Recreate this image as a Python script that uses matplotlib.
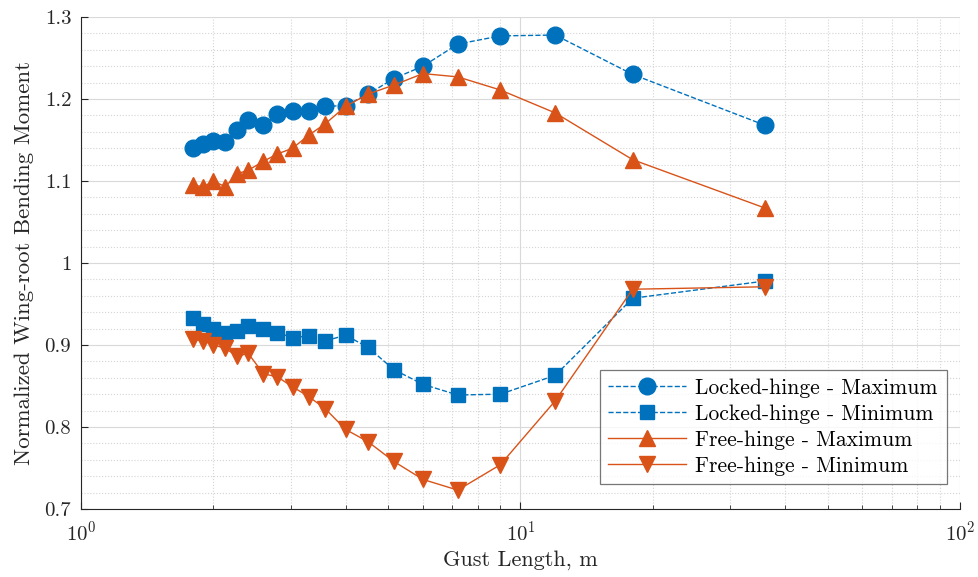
import numpy as np
import matplotlib
matplotlib.use("Agg")
import matplotlib.pyplot as plt
from matplotlib.ticker import FixedLocator, MultipleLocator, LogLocator, NullFormatter

plt.rcParams['font.family'] = 'serif'
plt.rcParams['font.serif'] = ['cmr10', 'DejaVu Serif']
plt.rcParams['mathtext.fontset'] = 'cm'
plt.rcParams['axes.formatter.use_mathtext'] = True

# gust lengths, m
gust_length = [1.8, 1.9, 2.0, 2.13, 2.27, 2.4, 2.6, 2.8, 3.03, 3.3, 3.6, 4.0,
               4.5, 5.15, 6.0, 7.2, 9.0, 12.0, 18.0, 36.0]

locked_max = [1.140, 1.145, 1.149, 1.148, 1.162, 1.175, 1.168, 1.182, 1.185, 1.185,
              1.191, 1.192, 1.206, 1.225, 1.240, 1.267, 1.277, 1.278, 1.230, 1.168]
locked_min = [0.933, 0.926, 0.919, 0.915, 0.917, 0.923, 0.919, 0.915, 0.909, 0.911,
              0.905, 0.912, 0.897, 0.870, 0.852, 0.839, 0.840, 0.863, 0.957, 0.978]
free_max = [1.095, 1.093, 1.100, 1.093, 1.109, 1.113, 1.124, 1.133, 1.140, 1.156,
            1.170, 1.191, 1.206, 1.217, 1.231, 1.227, 1.211, 1.183, 1.126, 1.067]
free_min = [0.907, 0.905, 0.900, 0.896, 0.886, 0.890, 0.865, 0.861, 0.849, 0.837,
            0.822, 0.797, 0.782, 0.758, 0.736, 0.723, 0.754, 0.832, 0.968, 0.971]

blue = '#0072BD'
orange = '#D95319'

fig = plt.figure(figsize=(9.79, 5.77), dpi=100)
ax = fig.add_axes([0.0827, 0.1179, 0.8979, 0.8526])

ax.plot(gust_length, locked_max, '--', color=blue, lw=1.0, marker='o', ms=12,
        mfc=blue, mec=blue, label='Locked-hinge - Maximum', zorder=3)
ax.plot(gust_length, locked_min, '--', color=blue, lw=1.0, marker='s', ms=10,
        mfc=blue, mec=blue, label='Locked-hinge - Minimum', zorder=3)
ax.plot(gust_length, free_max, '-', color=orange, lw=1.0, marker='^', ms=12,
        mfc=orange, mec=orange, label='Free-hinge - Maximum', zorder=4)
ax.plot(gust_length, free_min, '-', color=orange, lw=1.0, marker='v', ms=12,
        mfc=orange, mec=orange, label='Free-hinge - Minimum', zorder=4)

ax.set_xscale('log')
ax.set_xlim(1, 100)
ax.set_ylim(0.7, 1.3)
ax.yaxis.set_major_locator(FixedLocator([0.7, 0.8, 0.9, 1.0, 1.1, 1.2, 1.3]))
ax.set_yticklabels(['0.7', '0.8', '0.9', '1', '1.1', '1.2', '1.3'])
ax.yaxis.set_minor_locator(MultipleLocator(0.02))
ax.xaxis.set_major_locator(LogLocator(base=10))
ax.xaxis.set_minor_locator(LogLocator(base=10, subs=np.arange(2, 10)))
ax.xaxis.set_minor_formatter(NullFormatter())

ax.grid(which='major', color='#d9d9d9', lw=0.8, ls='-')
ax.grid(which='minor', color='#d4d4d4', lw=0.8, ls=':')
ax.set_axisbelow(True)

ax.tick_params(which='both', direction='in', top=False, right=False,
               colors='#262626', labelsize=15)
ax.tick_params(which='major', length=5)
ax.tick_params(axis='y', which='minor', length=0)
ax.tick_params(axis='x', which='minor', length=3)
ax.tick_params(axis='x', pad=8)
ax.tick_params(axis='y', pad=7)
for s in ['top', 'right']:
    ax.spines[s].set_visible(False)
for s in ['left', 'bottom']:
    ax.spines[s].set_color('#262626')
    ax.spines[s].set_linewidth(0.8)

ax.set_xlabel('Gust Length, m', fontsize=16, color='#262626', labelpad=4)
ax.set_ylabel('Normalized Wing-root Bending Moment', fontsize=16.5, color='#262626',
              labelpad=8)

leg = ax.legend(loc='lower right', bbox_to_anchor=(0.997, 0.028), fontsize=15.5,
                handlelength=3.6, frameon=True, fancybox=False, edgecolor='#555555',
                borderpad=0.4, labelspacing=0.3, handletextpad=0.45)
leg.get_frame().set_linewidth(0.9)

fig.savefig('out.png', dpi=100)
